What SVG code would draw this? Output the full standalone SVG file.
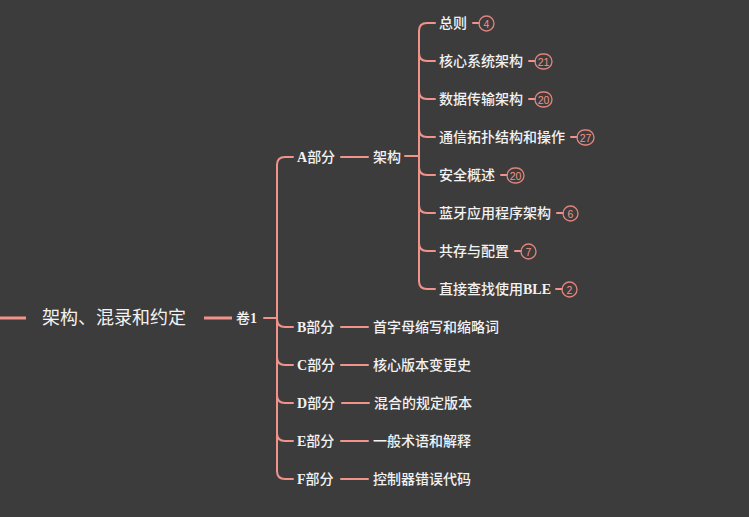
<svg xmlns="http://www.w3.org/2000/svg" width="749" height="517" viewBox="0 0 749 517">
<style>
.ln{fill:none;stroke:#f0938b;stroke-width:2;stroke-linecap:round}
.thick{fill:none;stroke:#f0938b;stroke-width:3}
.t{fill:#f2f2f2;font-family:"Liberation Serif","Noto Sans CJK SC",serif;font-size:14px;font-weight:500;dominant-baseline:central}
.b{font-weight:bold}
.root{fill:#f2f2f2;font-family:"Liberation Sans","Noto Sans CJK SC",sans-serif;font-size:18px;dominant-baseline:central}
.bd{fill:none;stroke:#e0847d;stroke-width:1.3}
.bt{fill:#f0938b;font-family:"Liberation Sans",sans-serif;font-size:10.5px;text-anchor:middle;dominant-baseline:central}
</style>
<rect width="749" height="517" fill="#3c3c3c"/>
<g id="connectors">
<line class="thick" x1="0" y1="318" x2="26" y2="318"/>
<line class="thick" x1="204" y1="318" x2="232" y2="318"/>
<line class="ln" x1="264" y1="318" x2="277" y2="318"/>
<line class="ln" x1="277" y1="165" x2="277" y2="471"/>
<path class="ln" d="M277 165 Q277 157 285 157 L293 157"/>
<path class="ln" d="M277 319 Q277 327 285 327 L293 327"/>
<path class="ln" d="M277 357 Q277 365 285 365 L293 365"/>
<path class="ln" d="M277 395 Q277 403 285 403 L293 403"/>
<path class="ln" d="M277 433 Q277 441 285 441 L293 441"/>
<path class="ln" d="M277 471 Q277 479 285 479 L293 479"/>
<line class="ln" x1="341" y1="157" x2="368" y2="157"/>
<line class="ln" x1="341" y1="327" x2="368" y2="327"/>
<line class="ln" x1="341" y1="365" x2="368" y2="365"/>
<line class="ln" x1="342" y1="403" x2="369" y2="403"/>
<line class="ln" x1="341" y1="441" x2="368" y2="441"/>
<line class="ln" x1="341" y1="479" x2="368" y2="479"/>
<line class="ln" x1="405" y1="156" x2="419" y2="156"/>
<line class="ln" x1="419" y1="31" x2="419" y2="281"/>
<path class="ln" d="M419 31 Q419 23 427 23 L435 23"/>
<path class="ln" d="M419 53 Q419 61 427 61 L435 61"/>
<path class="ln" d="M419 91 Q419 99 427 99 L435 99"/>
<path class="ln" d="M419 129 Q419 137 427 137 L435 137"/>
<path class="ln" d="M419 167 Q419 175 427 175 L435 175"/>
<path class="ln" d="M419 205 Q419 213 427 213 L435 213"/>
<path class="ln" d="M419 243 Q419 251 427 251 L435 251"/>
<path class="ln" d="M419 281 Q419 289 427 289 L435 289"/>
</g>
<g id="root"><text class="root" x="42" y="318">架构、混录和约定</text></g>
<g id="vol1"><text class="t" x="236" y="318">卷<tspan class="b">1</tspan></text></g>
<g id="partA"><text class="t" x="297" y="157"><tspan class="b">A</tspan>部分</text></g>
<g id="partB"><text class="t" x="297" y="327"><tspan class="b">B</tspan>部分</text></g>
<g id="partC"><text class="t" x="297" y="365"><tspan class="b">C</tspan>部分</text></g>
<g id="partD"><text class="t" x="297" y="403"><tspan class="b">D</tspan>部分</text></g>
<g id="partE"><text class="t" x="297" y="441"><tspan class="b">E</tspan>部分</text></g>
<g id="partF"><text class="t" x="297" y="479"><tspan class="b">F</tspan>部分</text></g>
<g id="arch"><text class="t" x="373" y="157">架构</text></g>
<g id="b1"><text class="t" x="373" y="327">首字母缩写和缩略词</text></g>
<g id="c1"><text class="t" x="373" y="365">核心版本变更史</text></g>
<g id="d1"><text class="t" x="374" y="403">混合的规定版本</text></g>
<g id="e1"><text class="t" x="373" y="441">一般术语和解释</text></g>
<g id="f1"><text class="t" x="373" y="479">控制器错误代码</text></g>
<g id="a1"><text class="t" x="439" y="23">总则</text><line class="ln" x1="473" y1="23" x2="479" y2="23"/><rect class="bd" x="479" y="16" width="15" height="15" rx="7.5"/><text class="bt" x="486.5" y="23.5">4</text></g>
<g id="a2"><text class="t" x="439" y="61">核心系统架构</text><line class="ln" x1="529" y1="61" x2="535" y2="61"/><rect class="bd" x="535" y="54" width="17" height="15" rx="7.5"/><text class="bt" x="543.5" y="61.5">21</text></g>
<g id="a3"><text class="t" x="439" y="99">数据传输架构</text><line class="ln" x1="529" y1="99" x2="535" y2="99"/><rect class="bd" x="535" y="92" width="17" height="15" rx="7.5"/><text class="bt" x="543.5" y="99.5">20</text></g>
<g id="a4"><text class="t" x="439" y="137">通信拓扑结构和操作</text><line class="ln" x1="571" y1="137" x2="577" y2="137"/><rect class="bd" x="577" y="130" width="17" height="15" rx="7.5"/><text class="bt" x="585.5" y="137.5">27</text></g>
<g id="a5"><text class="t" x="439" y="175">安全概述</text><line class="ln" x1="501" y1="175" x2="507" y2="175"/><rect class="bd" x="507" y="168" width="17" height="15" rx="7.5"/><text class="bt" x="515.5" y="175.5">20</text></g>
<g id="a6"><text class="t" x="439" y="213">蓝牙应用程序架构</text><line class="ln" x1="557" y1="213" x2="563" y2="213"/><rect class="bd" x="563" y="206" width="15" height="15" rx="7.5"/><text class="bt" x="570.5" y="213.5">6</text></g>
<g id="a7"><text class="t" x="439" y="251">共存与配置</text><line class="ln" x1="515" y1="251" x2="521" y2="251"/><rect class="bd" x="521" y="244" width="15" height="15" rx="7.5"/><text class="bt" x="528.5" y="251.5">7</text></g>
<g id="a8"><text class="t" x="439" y="289">直接查找使用<tspan class="b">BLE</tspan></text><line class="ln" x1="556" y1="289" x2="562" y2="289"/><rect class="bd" x="562" y="282" width="15" height="15" rx="7.5"/><text class="bt" x="569.5" y="289.5">2</text></g>
</svg>
